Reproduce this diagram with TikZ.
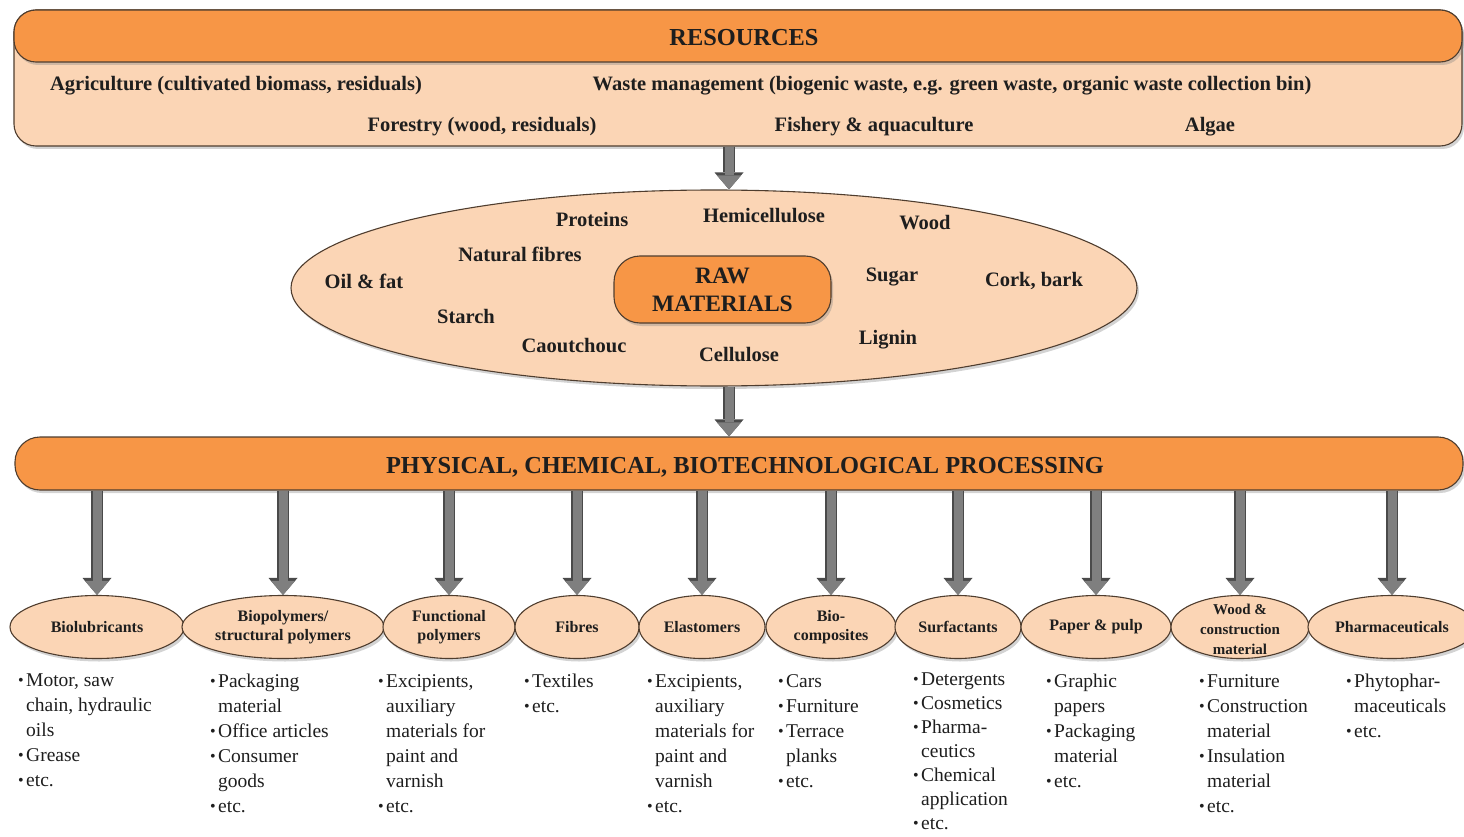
\documentclass[tikz,border=0pt]{standalone}
\usepackage{fontspec}
\setmainfont{Liberation Serif}
\usetikzlibrary{shapes.geometric,arrows.meta,shadows}
\definecolor{orng}{HTML}{F79646}
\definecolor{lite}{HTML}{FBD5B5}
\definecolor{bord}{HTML}{4F3D2E}
\definecolor{arr}{HTML}{7F7F7F}
\definecolor{arrd}{HTML}{4A4A4A}
\definecolor{txt}{HTML}{1E1E1E}
\newcommand\bu{\makebox[8pt][l]{\raisebox{1pt}{\fontsize{16}{16}\selectfont •}}}
\newcommand\nb{\hspace*{8pt}}
\tikzset{
  shade/.style={drop shadow={opacity=0.35,shadow xshift=2pt,shadow yshift=-3pt}},
  panel/.style={draw=bord, line width=1.1pt, fill=lite, rounded corners=22pt, shade, inner sep=0pt},
  band/.style={draw=bord, line width=1.1pt, fill=orng, rounded corners=22pt, shade, inner sep=0pt},
  oval/.style={ellipse, draw=bord, line width=1.1pt, fill=lite, shade, inner sep=0pt},
  hd/.style={font=\bfseries\fontsize{24.4}{28}\selectfont, text=txt, inner sep=0pt, align=center},
  lbl/.style={font=\bfseries\fontsize{20.5}{24}\selectfont, text=txt, inner sep=0pt},
  sm/.style={font=\bfseries\fontsize{16}{19}\selectfont, text=txt, inner sep=0pt, align=center},
  lst/.style={font=\fontsize{19.5}{25}\selectfont, text=txt, inner sep=0pt, align=left, anchor=north west},
  bigarrow/.style={draw=arr, line width=9pt, -{Triangle[width=24pt,length=14pt,line width=0pt]},
    preaction={draw=arrd, line width=11.5pt, -{Triangle[width=29pt,length=17pt,line width=0pt]}}}
}
\begin{document}
\begin{tikzpicture}[x=1pt,y=-1pt]
\useasboundingbox (0,0) rectangle (1464,837);
% Resources
\node[panel, minimum width=1448pt, minimum height=136pt] (res) at (738,78) {};
\node[band, minimum width=1448pt, minimum height=52pt] (resband) at (738,36) {};
\node[hd] (restitle) at (744,38) {RESOURCES};
\node[lbl] (agri) at (236,86) {Agriculture (cultivated biomass, residuals)};
\node[lbl] (waste) at (952,86) {Waste management (biogenic waste, e.g. green waste, organic waste collection bin)};
\node[lbl] (forest) at (482,127) {Forestry (wood, residuals)};
\node[lbl] (fish) at (874,127) {Fishery \& aquaculture};
\node[lbl] (algae) at (1210,127) {Algae};
% Raw materials
\node[oval, minimum width=846pt, minimum height=196pt] (raw) at (714,288) {};
\node[band, rounded corners=26pt, minimum width=217pt, minimum height=67pt, hd, font=\bfseries\fontsize{23.5}{28}\selectfont] (rm) at (722.5,289.5) {RAW\\MATERIALS};
\node[lbl] (prot) at (592,219) {Proteins};
\node[lbl] (hemi) at (764,216) {Hemicellulose};
\node[lbl] (wood) at (925,223) {Wood};
\node[lbl] (natf) at (520,254) {Natural fibres};
\node[lbl] (oil) at (364,281) {Oil \& fat};
\node[lbl] (sugar) at (892,277) {Sugar};
\node[lbl] (cork) at (1034,281) {Cork, bark};
\node[lbl] (starch) at (466,316) {Starch};
\node[lbl] (caou) at (574,346) {Caoutchouc};
\node[lbl] (cell) at (739,355) {Cellulose};
\node[lbl] (lign) at (888,340) {Lignin};
% Processing
\node[band, rounded corners=25pt, minimum width=1448pt, minimum height=53pt] (proc) at (739,463.5) {};
\node[hd] (proctitle) at (745,467) {PHYSICAL, CHEMICAL, BIOTECHNOLOGICAL PROCESSING};
% arrows top
\coordinate (ax) at (729,0);
\draw[bigarrow] (res.south -| ax) -- (raw.north -| ax);
\draw[bigarrow] (raw.south -| ax) -- (proc.north -| ax);
% product ovals
\foreach \n/\cx/\w/\t in {
  e1/97/174/{Biolubricants},
  e2/283/202/{Biopolymers/\\structural polymers},
  e3/449/132/{Functional\\polymers},
  e4/577/124/{Fibres},
  e5/702/126/{Elastomers},
  e6/831/130/{Bio-\\composites},
  e7/958/126/{Surfactants},
  e8/1096/150/{Paper \& pulp},
  e9/1240/138/{},
  e10/1392/168/{Pharmaceuticals}}{
  \node[oval, minimum width=\w pt, minimum height=63pt, label={[sm]center:\t}] (\n) at (\cx,627) {};
  \draw[bigarrow] (proc.south -| \n.north) -- (\n.north);
}
\node[sm, font=\bfseries\fontsize{15}{20}\selectfont] (e9t) at (1240,629) {Wood \&\\construction\\material};
% lists
\node[lst] (l1) at (18,674) {\bu Motor, saw\\\nb chain, hydraulic\\\nb oils\\\bu Grease\\\bu etc.};
\node[lst] (l2) at (210,674) {\bu Packaging\\\nb material\\\bu Office articles\\\bu Consumer\\\nb goods\\\bu etc.};
\node[lst] (l3) at (378,674) {\bu Excipients,\\\nb auxiliary\\\nb materials for\\\nb paint and\\\nb varnish\\\bu etc.};
\node[lst] (l4) at (524,674) {\bu Textiles\\\bu etc.};
\node[lst] (l5) at (647,674) {\bu Excipients,\\\nb auxiliary\\\nb materials for\\\nb paint and\\\nb varnish\\\bu etc.};
\node[lst] (l6) at (778,674) {\bu Cars\\\bu Furniture\\\bu Terrace\\\nb planks\\\bu etc.};
\node[lst, font=\fontsize{19.5}{24}\selectfont] (l7) at (913,673) {\bu Detergents\\\bu Cosmetics\\\bu Pharma-\\\nb ceutics\\\bu Chemical\\\nb application\\\bu etc.};
\node[lst] (l8) at (1046,674) {\bu Graphic\\\nb papers\\\bu Packaging\\\nb material\\\bu etc.};
\node[lst] (l9) at (1199,674) {\bu Furniture\\\bu Construction\\\nb material\\\bu Insulation\\\nb material\\\bu etc.};
\node[lst] (l10) at (1346,674) {\bu Phytophar-\\\nb maceuticals\\\bu etc.};
\end{tikzpicture}
\end{document}
